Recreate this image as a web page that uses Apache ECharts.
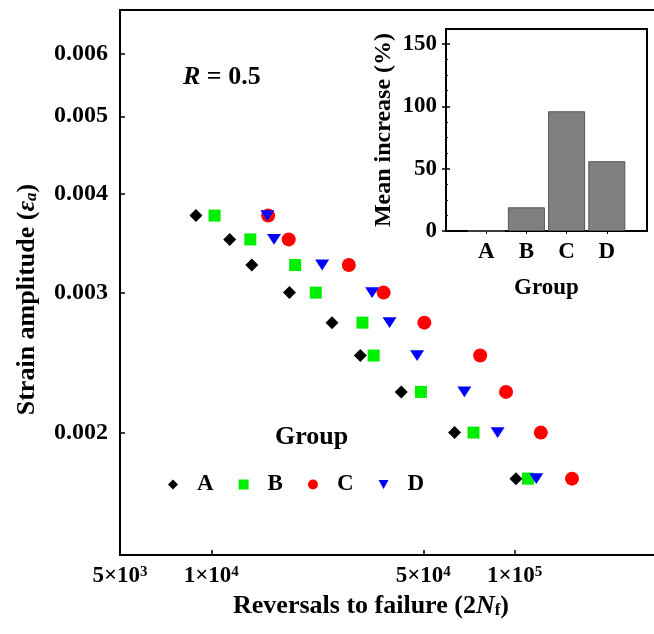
<!DOCTYPE html>
<html>
<head>
<meta charset="utf-8">
<script src="https://cdn.jsdelivr.net/npm/echarts@6/dist/echarts.min.js"></script>
<style>
html, body { margin: 0; padding: 0; background: #fff; }
#chart { width: 654px; height: 634px; }
</style>
</head>
<body>
<div id="chart"></div>
<script>
// fatigue data, R = 0.5
const groups = ['A', 'B', 'C', 'D'];
const strainLevels = [0.00375, 0.0035, 0.00325, 0.003, 0.00275, 0.0025, 0.00225, 0.002, 0.00175];
const reversalsA = [8900, 11500, 13600, 18100, 25000, 31000, 42300, 63400, 101000];
const reversalsB = [10250, 13450, 18900, 22100, 31500, 34300, 49100, 73200, 110700];
const reversalsC = [15400, 18000, 28400, 37000, 50400, 77000, 93700, 122000, 154600];
const reversalsD = [15300, 16100, 23200, 33900, 38700, 47700, 68300, 87900, 117900];
const meanIncrease = [0, 19, 96, 56];
const xTicks = [5000, 10000, 50000, 100000];
const yTicks = [0.002, 0.003, 0.004, 0.005, 0.006];
const insetTicks = [0, 50, 100, 150];

const FONT = "'Liberation Serif', 'DejaVu Serif', serif";
const lg = Math.log10;

const txt = (size) => ({ fontFamily: FONT, fontSize: size, fontWeight: 'bold', color: '#000' });

function sciLabel(v) {
  const n = Math.round(Math.pow(10, v));
  const e = Math.floor(lg(n) + 1e-9);
  const m = Math.round(n / Math.pow(10, e));
  return '{t|' + m + '×10}{s|' + e + '}';
}

function points(xs) {
  return xs.map((x, i) => [lg(x), lg(strainLevels[i])]);
}

const markers = {
  A: { symbol: 'diamond', size: [13, 13], color: '#000000' },
  B: { symbol: 'rect', size: [12, 12], color: '#00ee00' },
  C: { symbol: 'circle', size: [14, 14], color: '#ff0000' },
  D: { symbol: 'path://M0,0 L2,0 L1,1.8 Z', size: [14, 12], color: '#0000ff' }
};
const reversals = { A: reversalsA, B: reversalsB, C: reversalsC, D: reversalsD };

const xMin = lg(5000);
const xMax = xMin + 550 / 303.3;

const chart = echarts.init(document.getElementById('chart'), null, { renderer: 'canvas' });

const option = {
  animation: false,
  backgroundColor: '#fff',
  title: [
    {
      text: '{i|R} = 0.5', left: 183, top: 64, padding: 0,
      textStyle: Object.assign(txt(26), { rich: { i: Object.assign(txt(26), { fontStyle: 'italic' }) } })
    },
    { text: 'Group', left: 275, top: 424, padding: 0, textStyle: txt(26) }
  ],
  legend: {
    data: groups,
    left: 168, top: 473, padding: 0,
    itemWidth: 10, itemHeight: 10, itemGap: 25,
    textStyle: Object.assign(txt(23), { padding: [0, 0, 0, 14] })
  },
  grid: [
    { left: 120, top: 10, width: 550, height: 545, show: true, borderColor: '#000', borderWidth: 2, outerBoundsMode: 'none' },
    { left: 446, top: 29, width: 201, height: 202, show: true, borderColor: '#000', borderWidth: 2, backgroundColor: '#fff', outerBoundsMode: 'none' }
  ],
  xAxis: [
    {
      gridIndex: 0, type: 'value', min: xMin, max: xMax,
      axisLine: { show: true, lineStyle: { color: '#000', width: 2 } },
      axisTick: { show: true, inside: true, length: 5, customValues: xTicks.map(lg), lineStyle: { color: '#000', width: 1.5 } },
      axisLabel: {
        customValues: xTicks.map(lg), margin: 10, formatter: sciLabel,
        rich: { t: txt(23), s: Object.assign(txt(15), { verticalAlign: 'top', lineHeight: 15 }) }
      },
      splitLine: { show: false },
      name: 'Reversals to failure (2{n|N}{f|f})', nameLocation: 'middle', nameGap: 37,
      nameTextStyle: Object.assign(txt(26), {
        padding: [0, 48, 0, 0],
        rich: { n: Object.assign(txt(26), { fontStyle: 'italic' }), f: Object.assign(txt(17), { verticalAlign: 'bottom', lineHeight: 22 }) }
      })
    },
    {
      gridIndex: 1, type: 'value', min: 0, max: 5,
      axisLine: { show: true, lineStyle: { color: '#000', width: 2 } },
      axisTick: { show: false },
      axisLabel: { customValues: [1, 2, 3, 4], margin: 10, formatter: (v) => groups[Math.round(v) - 1], textStyle: txt(23) },
      splitLine: { show: false },
      name: 'Group', nameLocation: 'middle', nameGap: 46, nameTextStyle: txt(23)
    },
    {
      gridIndex: 1, type: 'value', min: 0, max: 5, position: 'top',
      axisLine: { show: true, lineStyle: { color: '#000', width: 2 } },
      axisTick: { show: true, inside: true, length: 3, customValues: [1, 2, 3, 4], lineStyle: { color: '#000' } },
      axisLabel: { show: false },
      splitLine: { show: false }
    }
  ],
  yAxis: [
    {
      gridIndex: 0, type: 'value', min: -2.853, max: -2.1673,
      axisLine: { show: true, lineStyle: { color: '#000', width: 2 } },
      axisTick: { show: true, inside: true, length: 5, customValues: yTicks.map(lg), lineStyle: { color: '#000', width: 1.5 } },
      axisLabel: { customValues: yTicks.map(lg), margin: 12, formatter: (v) => Math.pow(10, v).toFixed(3), textStyle: txt(24) },
      splitLine: { show: false },
      name: 'Strain amplitude ({e|ε}{a|a})', nameLocation: 'middle', nameGap: 80,
      nameTextStyle: Object.assign(txt(26), {
        padding: [0, 34, 0, 0],
        rich: { e: Object.assign(txt(26), { fontStyle: 'italic' }), a: Object.assign(txt(17), { fontStyle: 'italic', verticalAlign: 'bottom', lineHeight: 22 }) }
      })
    },
    {
      gridIndex: 1, type: 'value', min: 0, max: 162, interval: 50,
      axisLine: { show: true, lineStyle: { color: '#000', width: 2 } },
      axisTick: { show: true, inside: true, length: 4, customValues: insetTicks, lineStyle: { color: '#000', width: 1.5 } },
      minorTick: { show: true, splitNumber: 4, length: 2, lineStyle: { color: '#000' } },
      axisLabel: { customValues: insetTicks, margin: 9, textStyle: txt(23) },
      splitLine: { show: false },
      name: 'Mean increase (%)', nameLocation: 'middle', nameGap: 50, nameTextStyle: txt(24)
    },
    {
      gridIndex: 1, type: 'value', min: 0, max: 162, position: 'right',
      axisLine: { show: true, lineStyle: { color: '#000', width: 2 } },
      axisTick: { show: true, inside: true, length: 4, customValues: insetTicks, lineStyle: { color: '#000', width: 1.5 } },
      axisLabel: { show: false },
      splitLine: { show: false }
    }
  ],
  series: groups.map((g) => ({
    name: g, type: 'scatter', xAxisIndex: 0, yAxisIndex: 0,
    symbol: markers[g].symbol, symbolSize: markers[g].size, symbolKeepAspect: true,
    itemStyle: { color: markers[g].color, opacity: 1 },
    data: points(reversals[g])
  })).concat([{
    name: 'increase', type: 'bar', xAxisIndex: 1, yAxisIndex: 1,
    barWidth: 37,
    itemStyle: { color: '#808080', borderColor: '#555', borderWidth: 1 },
    data: meanIncrease.map((v, i) => [i + 1, v])
  }])
};

chart.setOption(option);
</script>
</body>
</html>
